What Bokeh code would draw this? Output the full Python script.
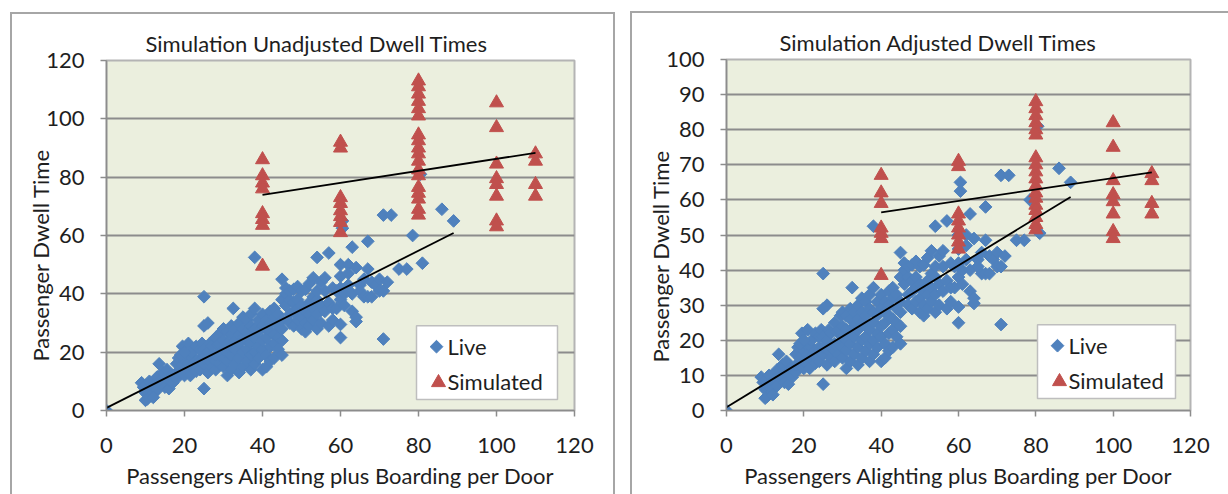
import numpy as np
from bokeh.plotting import figure
from bokeh.layouts import row
from bokeh.models import Range1d, Title, FixedTicker
from bokeh.core.properties import value
from bokeh.embed import file_html
from bokeh.resources import INLINE

# ---------------- data ----------------
# Observed (live) dwell times: passengers per door vs. dwell time (s)
live_x = [
    0, 9, 9.5, 10, 10, 10.5, 11, 11, 11.5, 12, 12, 12.5, 13, 13, 13.5, 14, 14, 14.5, 15, 15,
    15.5, 16, 16, 16.5, 17, 17, 10, 12,
    18, 18, 18, 18.5, 19, 19, 19.5, 20, 20, 20, 20.5, 21, 21, 21, 21.5, 22, 22, 22, 22.5, 23,
    23, 23, 23.5, 24, 24, 24, 24.5, 24, 19, 20,
    25, 25, 26, 25, 25, 25, 25, 26, 26, 26, 26.5, 27, 27, 27, 28, 28, 28, 28, 28.5, 29,
    29, 29, 29.5, 30, 30, 30, 30, 30,
    31, 31, 31, 31, 31, 32, 32, 32, 32, 32, 32.5, 33, 33, 33, 33, 34, 34, 34, 34, 34,
    35, 35, 35, 35, 35, 36, 36, 36, 36, 36, 37, 37, 37, 37, 37,
    38, 38, 38, 38, 38, 38, 39, 39, 39, 39, 40, 40, 40, 40, 40, 41, 41, 41, 41, 41,
    42, 42, 42, 42, 42, 43, 43, 43, 43, 43, 44, 44, 44, 44, 45, 45, 45, 45, 45, 45,
    46, 46, 46, 47, 47, 47,
    47, 48, 48, 48, 48, 49, 49, 49, 49, 50, 50, 50, 50, 51, 51, 51, 51, 52, 52, 52, 52,
    53, 53, 53, 53, 54, 54, 54, 54, 54, 55, 55, 55, 56, 56, 56, 57, 57, 57, 58, 58, 58,
    59, 59, 60, 60, 60, 60, 60, 60, 60.5, 60.5, 61, 61, 62, 62, 62, 63, 63, 63, 64, 64, 64,
    65, 65, 66, 66, 67, 67, 67, 68, 68, 69, 70, 70, 71, 71, 71, 72, 73,
    75, 77, 78.5, 80.5, 81, 86, 89,
]
live_y = [
    0, 9.5, 8, 6, 8.5, 4, 7, 10, 5, 8.5, 6, 9, 7, 11.5, 16, 9, 10.5, 13, 8, 11,
    14, 7.5, 10.5, 12, 9.5, 12, 3.5, 4.5,
    11, 13, 16, 18, 13, 15, 22, 12, 14, 17, 19, 14, 16, 23, 12, 15.5, 18, 20, 16, 13.5,
    17, 22, 16, 14, 18, 21, 23, 17, 19, 20,
    39, 29, 30, 7.5, 16, 18, 21, 13, 17.5, 20, 23, 15, 18, 22, 14, 17, 19, 25, 22.5, 16,
    19, 23, 27, 15, 18, 21, 24, 28,
    12, 17, 20, 23, 27, 14, 19, 22, 26, 29, 35, 16, 21, 24, 28, 13, 18, 23, 26, 30,
    15, 20, 25, 28, 32, 17, 21, 24, 27, 31, 14, 19, 23, 29, 33,
    52.5, 16, 20, 25, 28, 35, 18, 22, 27, 31, 14, 21, 24, 29, 33, 15, 19, 25, 28, 31,
    17, 22, 27, 30, 34, 18, 23, 26, 32, 35, 21, 25, 29, 33, 19, 24, 28, 31, 45, 38,
    36, 40, 42, 33, 38, 41,
    30, 29, 34, 37, 41.5, 31, 35, 38, 42.5, 28, 32, 36, 41, 27, 30, 34, 41.5, 29, 33, 37, 43.5,
    31, 35, 39, 45.5, 52.5, 28, 33, 38, 41, 30, 36, 44, 34, 41, 45.5, 54, 29, 37, 31, 42, 35,
    41, 35, 25, 29.5, 38, 42, 46, 50, 62.5, 65, 40, 36, 50, 43, 47, 56, 34, 40, 30.5, 32, 49,
    43, 41, 45, 39, 48.5, 58, 39, 39, 44, 43, 45, 41, 41, 24.5, 67, 44, 67,
    48.5, 48.5, 60, 81, 50.5, 69, 65,
]

# Simulated dwell times before adjustment
unadj_x = [40] * 8 + [60] * 8 + [80] * 18 + [100] * 8 + [110] * 4
unadj_y = [
    86, 80.5, 78, 76, 67.5, 65.5, 63.5, 49.5,
    92, 90, 73, 71, 68.5, 66.5, 64.5, 61,
    113, 111, 108.5, 106, 103.5, 101, 94.5, 92.5, 90, 88, 85.5, 82.5, 80.5, 76.5, 74.5, 72.5, 69, 67,
    105.5, 97, 84.5, 79.5, 77.5, 73.5, 65, 63,
    88, 85.5, 77.5, 73.5,
]

# Simulated dwell times after adjustment
adj_x = [40] * 7 + [60] * 8 + [80] * 18 + [100] * 8 + [110] * 4
adj_y = [
    67, 62, 59, 52, 50.5, 49, 38.5,
    71, 69.5, 56, 54, 52, 50, 48, 46,
    88, 86, 84, 82, 80, 78.5, 72, 70, 68, 66, 64, 62, 60.5, 58.5, 57, 55, 53, 51.5,
    82, 75, 65.5, 61.5, 59.5, 56, 51, 49,
    67.5, 65.5, 59, 56,
]

x_ticks = [0, 20, 40, 60, 80, 100, 120]
y_ticks_unadj = [0, 20, 40, 60, 80, 100, 120]
y_ticks_adj = [0, 10, 20, 30, 40, 50, 60, 70, 80, 90, 100]

titles = ["Simulation Unadjusted Dwell Times", "Simulation Adjusted Dwell Times"]
x_title = "Passengers Alighting plus Boarding per Door"
y_title = "Passenger Dwell Time"
series_names = ["Live", "Simulated"]

# ---------------- style ----------------
FONT = "Lato"
FS = "22px"
BLUE = "#4F81BD"
RED = "#C0504D"
PLOT_BG = "#EBEFDE"
GRID = "#8C8C8C"
TEXT = "#1E1E1E"
DIAMOND = 9      # side of the 45-degree square
TRIANGLE = 14


def linear_trend(xs, ys):
    k, b = np.polyfit(np.asarray(xs, float), np.asarray(ys, float), 1)
    x0, x1 = min(xs), max(xs)
    return [x0, x1], [k * x0 + b, k * x1 + b]


def side_title(text, offset):
    # vertical axis title, pulled in towards the tick labels
    kw = dict(text=text, align="left", offset=offset, vertical_align="bottom",
              text_font=FONT, text_font_size=FS, text_font_style="normal", text_color=TEXT)
    try:
        return Title(standoff=-20, **kw)
    except Exception:
        return Title(standoff=0, **kw)


def dwell_chart(title, sim_x, sim_y, y_ticks, w, h, borders, margin, shadow,
                title_dx, ytitle_dy, legend_box):
    left, right, top, bottom = borders
    frame_w = w - left - right
    frame_h = h - top - bottom
    y_max = y_ticks[-1]
    p = figure(width=w, height=h, x_range=Range1d(0, 120), y_range=Range1d(0, y_max),
               output_backend="svg", toolbar_location=None,
               min_border_left=left, min_border_right=right,
               min_border_top=top, min_border_bottom=bottom,
               background_fill_color=PLOT_BG, border_fill_alpha=0)
    p.margin = margin
    p.styles = {"background-color": "#ffffff", "box-shadow": shadow}

    # chart title
    p.title.text = title
    p.title.align = "left"
    p.title.offset = title_dx
    p.title.standoff = 8
    p.title.text_font = FONT
    p.title.text_font_size = FS
    p.title.text_font_style = "normal"
    p.title.text_color = TEXT

    p.add_layout(side_title(y_title, ytitle_dy), "left")

    p.outline_line_color = "#B4B4B4"
    p.outline_line_width = 2

    for ax in (p.xaxis, p.yaxis):
        ax.axis_line_color = GRID
        ax.axis_line_width = 1.5
        ax.major_tick_line_color = GRID
        ax.major_tick_line_width = 1.5
        ax.major_tick_in = 0
        ax.major_tick_out = 6
        ax.minor_tick_line_color = None
        ax.major_label_text_font = FONT
        ax.major_label_text_font_size = FS
        ax.major_label_text_color = TEXT
    p.xaxis.ticker = FixedTicker(ticks=x_ticks)
    p.yaxis.ticker = FixedTicker(ticks=y_ticks)
    p.xaxis.major_label_standoff = 21
    p.yaxis.major_label_standoff = 16

    p.xaxis.axis_label = x_title
    p.xaxis.axis_label_text_font = FONT
    p.xaxis.axis_label_text_font_size = FS
    p.xaxis.axis_label_text_font_style = "normal"
    p.xaxis.axis_label_text_color = TEXT
    p.xaxis.axis_label_standoff = 6

    p.xgrid.visible = False
    p.ygrid.grid_line_color = GRID
    p.ygrid.grid_line_width = 2

    # observations, simulation runs and their linear trends
    p.scatter(live_x, live_y, marker="square", angle=np.pi / 4, size=DIAMOND,
              fill_color=BLUE, line_color=BLUE)
    p.scatter(sim_x, sim_y, marker="triangle", size=TRIANGLE,
              fill_color=RED, line_color=RED)

    lx, ly = linear_trend(live_x, live_y)
    p.line(lx, ly, line_color="black", line_width=1.8)
    sx, sy = linear_trend(sim_x, sim_y)
    p.line(sx, sy, line_color="black", line_width=1.8)

    # legend box, drawn inside the plot area (pixel offsets from the frame's lower-left)
    def fx(px):
        return px / frame_w * 120

    def fy(py):
        return py / frame_h * y_max

    bl, bb, bw, bh = legend_box
    p.quad(left=[fx(bl)], right=[fx(bl + bw)], bottom=[fy(bb)], top=[fy(bb + bh)],
           fill_color="white", line_color="#BEBEBE", line_width=1.5)
    p.scatter([fx(bl + 20)], [fy(bb + 53)], marker="square", angle=np.pi / 4, size=DIAMOND,
              fill_color=BLUE, line_color=BLUE)
    p.scatter([fx(bl + 22)], [fy(bb + 17)], marker="triangle", size=TRIANGLE,
              fill_color=RED, line_color=RED)
    p.text(x=[fx(bl + 31), fx(bl + 31)], y=[fy(bb + 53), fy(bb + 18)], text=series_names,
           text_font=value(FONT), text_font_size=value(FS), text_color=TEXT,
           text_baseline="middle", text_align="left")
    return p


EDGE = "#A6A6A6"
p1 = dwell_chart(titles[0], unadj_x, unadj_y, y_ticks_unadj, 605, 482,
                 (96, 41, 48, 83), (12, 0, 0, 10),
                 f"inset 2px 0 0 {EDGE}, inset 0 2px 0 {EDGE}, inset -2px 0 0 {EDGE}",
                 39, 49, (310, 11, 141, 74))
p2 = dwell_chart(titles[1], adj_x, adj_y, y_ticks_adj, 598, 483,
                 (96, 38, 47, 84), (11, 0, 0, 15),
                 f"inset 2px 0 0 {EDGE}, inset 0 2px 0 {EDGE}",
                 53, 48, (311, 12, 138, 74))

layout = row(p1, p2)
open("out.html", "w").write(file_html(layout, INLINE))
